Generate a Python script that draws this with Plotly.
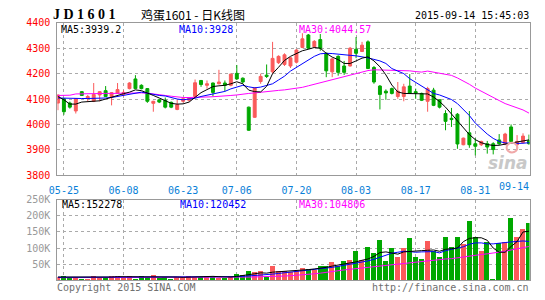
import plotly.graph_objects as go

# ---------------- data ----------------
tick_idx = [1, 11, 21, 30, 40, 50, 60, 70]
tick_labels = ["05-25", "06-08", "06-23", "07-06", "07-20", "08-03", "08-17", "08-31"]
last_label = "09-14"

open_ = [4084, 4101, 4084, 4053, 4129, 4103, 4091, 4116, 4133, 4110,
         4122, 4118, 4141, 4179, 4154, 4141, 4083, 4097, 4095, 4087,
         4059, 4091, 4095, 4110, 4173, 4154, 4163, 4160, 4163, 4154,
         4201, 4182, 4068, 4028, 4169, 4194, 4207, 4243, 4236, 4230,
         4245, 4303, 4352, 4306, 4334, 4280, 4207, 4268, 4230, 4230,
         4296, 4287, 4325, 4224, 4151, 4131, 4141, 4110, 4110, 4151,
         4129, 4122, 4091, 4135, 4097, 4043, 4024, 4040, 3920, 3967,
         3924, 3920, 3924, 3924, 3939, 3924, 3990, 3920, 3929, 3936]
high = [4118, 4103, 4090, 4103, 4131, 4116, 4163, 4131, 4151, 4127,
        4163, 4135, 4166, 4194, 4158, 4143, 4093, 4101, 4106, 4090,
        4097, 4105, 4108, 4177, 4175, 4173, 4165, 4215, 4173, 4200,
        4234, 4185, 4070, 4146, 4200, 4236, 4325, 4272, 4280, 4265,
        4296, 4359, 4356, 4332, 4356, 4283, 4262, 4272, 4250, 4305,
        4344, 4325, 4331, 4230, 4155, 4138, 4145, 4167, 4160, 4198,
        4141, 4125, 4148, 4144, 4099, 4056, 4065, 4045, 3948, 4053,
        3946, 3936, 3935, 3930, 3962, 3967, 4000, 3958, 3965, 3960]
low = [4056, 4038, 4062, 4043, 4112, 4091, 4088, 4091, 4108, 4075,
       4120, 4110, 4138, 4139, 4138, 4085, 4050, 4084, 4063, 4064,
       4056, 4086, 4090, 4108, 4148, 4141, 4110, 4158, 4131, 4150,
       4176, 4160, 3975, 4026, 4160, 4183, 4200, 4238, 4230, 4222,
       4240, 4300, 4296, 4300, 4290, 4186, 4186, 4192, 4195, 4228,
       4261, 4285, 4218, 4160, 4059, 4097, 4118, 4101, 4091, 4120,
       4101, 4092, 4050, 4072, 4063, 3977, 3990, 3904, 3918, 3908,
       3878, 3915, 3885, 3882, 3918, 3918, 3935, 3901, 3925, 3920]
close = [4116, 4050, 4068, 4101, 4114, 4110, 4118, 4129, 4110, 4125,
         4137, 4126, 4163, 4141, 4141, 4091, 4091, 4088, 4068, 4068,
         4078, 4101, 4103, 4164, 4157, 4160, 4126, 4167, 4154, 4198,
         4179, 4167, 3977, 4144, 4189, 4189, 4260, 4268, 4274, 4262,
         4293, 4337, 4300, 4327, 4300, 4211, 4258, 4205, 4205, 4300,
         4280, 4312, 4220, 4167, 4118, 4124, 4122, 4131, 4148, 4122,
         4124, 4095, 4141, 4075, 4068, 4012, 4019, 3923, 3946, 3920,
         3914, 3933, 3911, 3901, 3924, 3962, 3933, 3933, 3954, 3924]

ma5 = [4110, 4097, 4080, 4080, 4088, 4090, 4091, 4093, 4100, 4108,
       4116, 4121, 4127, 4136, 4133, 4125, 4114, 4104, 4095, 4083,
       4080, 4081, 4088, 4105, 4125, 4137, 4149, 4152, 4154, 4160,
       4168, 4160, 4135, 4129, 4128, 4150, 4200, 4225, 4252, 4268,
       4280, 4290, 4296, 4303, 4300, 4280, 4265, 4255, 4240, 4240,
       4250, 4261, 4266, 4250, 4227, 4195, 4155, 4128, 4122, 4122,
       4122, 4122, 4120, 4108, 4090, 4068, 4040, 4012, 3985, 3960,
       3940, 3928, 3921, 3917, 3918, 3923, 3927, 3931, 3935, 3939.2]
ma10 = [4104, 4103, 4103, 4103, 4102, 4102, 4102, 4103, 4104, 4106,
        4110, 4116, 4120, 4125, 4127, 4123, 4118, 4114, 4112, 4105,
        4100, 4097, 4100, 4103, 4110, 4115, 4120, 4125, 4130, 4140,
        4148, 4154, 4148, 4144, 4147, 4152, 4160, 4175, 4190, 4210,
        4225, 4240, 4255, 4268, 4278, 4280, 4279, 4276, 4274, 4272,
        4270, 4267, 4262, 4256, 4250, 4240, 4220, 4210, 4200, 4180,
        4165, 4150, 4135, 4122, 4116, 4108, 4098, 4082, 4060, 4035,
        4005, 3982, 3962, 3945, 3933, 3927, 3925, 3925, 3926, 3928]
ma30 = [4114, 4114, 4115, 4120, 4121, 4121, 4121, 4122, 4122, 4122,
        4123, 4123, 4124, 4124, 4124, 4123, 4121, 4118, 4114, 4111,
        4108, 4106, 4106, 4106, 4107, 4108, 4109, 4110, 4112, 4114,
        4116, 4120, 4122, 4124, 4127, 4129, 4131, 4134, 4136, 4139,
        4141, 4146, 4152, 4158, 4164, 4172, 4178, 4184, 4190, 4196,
        4201, 4206, 4212, 4215, 4214, 4213, 4213, 4213, 4213, 4211,
        4208, 4206, 4210, 4206, 4202, 4199, 4193, 4183, 4171, 4158,
        4143, 4130, 4117, 4104, 4094, 4082, 4073, 4065, 4057, 4044.57]

volume = [11000, 14000, 11000, 10000, 4000, 6000, 14000, 7000, 10000, 14000,
          14000, 7000, 14000, 6000, 14000, 10000, 17000, 7000, 10000, 6000,
          10000, 10000, 14000, 10000, 10000, 14000, 10000, 7000, 7000, 14000,
          20000, 17000, 29000, 27000, 29000, 10000, 44000, 28000, 30000, 27000,
          30000, 40000, 37000, 32000, 46000, 44000, 57000, 44000, 59000, 63000,
          92000, 65000, 104000, 84000, 125000, 60000, 102000, 72000, 102000, 132000,
          72000, 68000, 122000, 92000, 72000, 135000, 104000, 135000, 114000, 185000,
          134000, 92000, 120000, 2000, 117000, 120000, 195000, 135000, 159000, 179000]
vma5 = [10000, 10000, 10000, 10000, 10000, 9000, 9000, 9000, 8000, 10000,
        11000, 11000, 12000, 11000, 11000, 11000, 12000, 11000, 11000, 10000,
        10000, 9000, 10000, 11000, 11000, 12000, 12000, 11000, 10000, 10000,
        12000, 14000, 17000, 20000, 23000, 22000, 25000, 26000, 27000, 28000,
        30000, 31000, 33000, 35000, 37000, 40000, 44000, 47000, 50000, 54000,
        57000, 62000, 66000, 74000, 86000, 88000, 84000, 81000, 88000, 90000,
        92000, 92000, 93000, 94000, 90000, 96000, 98000, 100000, 120000, 130000,
        132000, 132000, 124000, 100000, 87000, 87000, 105000, 120000, 150000, 152278]
vma10 = [9000, 9000, 9000, 9000, 9000, 9000, 9000, 9000, 9000, 9000,
         9000, 9000, 10000, 10000, 10000, 10000, 11000, 11000, 11000, 11000,
         10000, 10000, 10000, 10000, 10000, 10000, 11000, 11000, 11000, 11000,
         11000, 12000, 13000, 15000, 16000, 17000, 19000, 21000, 23000, 25000,
         27000, 29000, 30000, 32000, 35000, 38000, 40000, 43000, 46000, 50000,
         53000, 56000, 60000, 65000, 72000, 77000, 84000, 87000, 90000, 89000,
         87000, 88000, 89000, 89000, 85000, 92000, 96000, 100000, 104000, 112000,
         116000, 116000, 113000, 113000, 114000, 117000, 119000, 121000, 122000, 120452]
vma30 = [8000, 8000, 8000, 8000, 8000, 8000, 8000, 8000, 8000, 8000,
         8000, 8000, 8000, 8000, 8000, 8000, 8000, 8000, 8000, 8000,
         8000, 8000, 8000, 8000, 8000, 8000, 8000, 8000, 8000, 8000,
         9000, 9000, 10000, 10000, 11000, 11000, 11000, 12000, 13000, 14000,
         15000, 17000, 19000, 20000, 22000, 25000, 27000, 29000, 32000, 34000,
         36000, 38000, 40000, 43000, 46000, 48000, 50000, 52000, 54000, 56000,
         57000, 59000, 60000, 62000, 64000, 66000, 67000, 70000, 72000, 74000,
         77000, 80000, 82000, 84000, 87000, 90000, 94000, 98000, 101000, 104806]

price_ticks = [3800, 3900, 4000, 4100, 4200, 4300, 4400]
vol_ticks = [50000, 100000, 150000, 200000, 250000]
vol_tick_labels = ["50K", "100K", "150K", "200K", "250K"]

# ---------------- styling ----------------
W, H = 545, 300
RED = "#fa5a5a"
GREEN = "#00a800"
GRID = "#aaaaaa"
FRAME = "#999999"
MONO = "DejaVu Sans Mono"
DATE_BLUE = "#0a7fd8"

idx = list(range(len(close)))
vol_colors = [RED if c >= o else GREEN for o, c in zip(open_, close)]

def px_x(p):
    return p / W

def px_y(p):
    return 1 - p / H

x_dom = [px_x(50), px_x(529.3)]
price_dom = [px_y(176.7), px_y(18.5)]
vol_dom = [px_y(285.7), px_y(202.2)]
x_range = [-0.11, 79.09]

fig = go.Figure()

fig.add_trace(go.Candlestick(
    x=idx, open=open_, high=high, low=low, close=close,
    increasing=dict(line=dict(color=RED, width=1), fillcolor=RED),
    decreasing=dict(line=dict(color=GREEN, width=1), fillcolor=GREEN),
    whiskerwidth=0, xaxis="x", yaxis="y", hoverinfo="skip",
))
for series, col in [(ma30, "#ff00ff"), (ma10, "#0000ff"), (ma5, "#000000")]:
    fig.add_trace(go.Scatter(x=idx, y=series, mode="lines",
                             line=dict(color=col, width=1),
                             xaxis="x", yaxis="y", hoverinfo="skip"))

fig.add_trace(go.Bar(x=idx, y=volume, marker=dict(color=vol_colors, line=dict(width=0)),
                     width=0.84, xaxis="x2", yaxis="y2", hoverinfo="skip"))
for series, col in [(vma30, "#ff00ff"), (vma10, "#0000ff"), (vma5, "#000000")]:
    fig.add_trace(go.Scatter(x=idx, y=series, mode="lines",
                             line=dict(color=col, width=1),
                             xaxis="x2", yaxis="y2", hoverinfo="skip"))

axis_common = dict(showline=True, linecolor=FRAME, linewidth=1, mirror=True,
                   zeroline=False, gridcolor=GRID, griddash="dot", gridwidth=1,
                   ticks="", fixedrange=True)

fig.update_layout(
    width=W, height=H,
    margin=dict(l=0, r=0, t=0, b=0),
    paper_bgcolor="white", plot_bgcolor="white",
    showlegend=False,
    bargap=0,
    xaxis=dict(domain=x_dom, anchor="y", range=x_range,
               tickmode="array", tickvals=tick_idx, ticktext=tick_labels,
               tickfont=dict(family=MONO, size=10, color=DATE_BLUE),
               ticklabelstandoff=6, rangeslider=dict(visible=False),
               **axis_common),
    yaxis=dict(domain=price_dom, anchor="x", range=[3800, 4400],
               tickmode="array", tickvals=price_ticks,
               ticktext=[str(v) for v in price_ticks],
               tickfont=dict(family=MONO, size=10, color="#ff0000"),
               ticklabelstandoff=4, **axis_common),
    xaxis2=dict(domain=x_dom, anchor="y2", range=x_range,
                tickmode="array", tickvals=tick_idx, showticklabels=False,
                **axis_common),
    yaxis2=dict(domain=vol_dom, anchor="x2", range=[0, 250000],
                tickmode="array", tickvals=vol_ticks, ticktext=vol_tick_labels,
                tickfont=dict(family=MONO, size=10, color="#999999"),
                ticklabelstandoff=4, **axis_common),
)

ann = []
def text(x, y, s, color="#000", size=10, family=MONO, xanchor="left", **kw):
    ann.append(dict(x=px_x(x), y=px_y(y), xref="paper", yref="paper", text=s,
                    showarrow=False, xanchor=xanchor, yanchor="middle",
                    font=dict(family=family, size=size, color=color), **kw))

text(44, 10, "<b>J D 1 6 0 1</b>", size=14, family="Liberation Serif")
text(133, 10, "鸡蛋1601 - 日K线图", size=12, family="Noto Sans CJK SC")
text(531, 11, "2015-09-14 15:45:03", xanchor="right")
text(52, 25.5, "MA5:%s" % ma5[-1], color="#000000")
text(172, 25.5, "MA10:%d" % ma10[-1], color="#0000ff")
text(293, 25.5, "MA30:%s" % ma30[-1], color="#ff00ff")
text(53, 207, "MA5:%d" % vma5[-1], color="#000000")
text(173, 207, "MA10:%d" % vma10[-1], color="#0000ff")
text(293, 207, "MA30:%d" % vma30[-1], color="#ff00ff")
text(48, 293, "Copyright 2015 SINA.COM", color="#707070")
text(531, 293, "http://finance.sina.com.cn", color="#707070", xanchor="right")
text(530, 164, "<b><i>sina</i></b>", color="#c8c8c8", size=17,
     family="DejaVu Sans", xanchor="right")
text(531, 188.5, last_label, color=DATE_BLUE, xanchor="right")
fig.update_layout(annotations=ann)

fig.add_shape(type="circle", xref="paper", yref="paper",
              x0=px_x(506), x1=px_x(517), y0=px_y(153), y1=px_y(143),
              line=dict(color="#f0a8a8", width=2))

fig.write_html("out.html", config={"displayModeBar": False})
